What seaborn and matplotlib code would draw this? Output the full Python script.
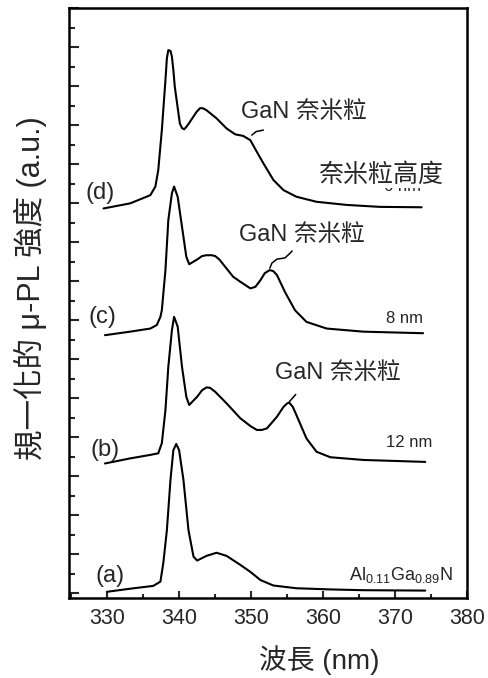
import numpy as np
import pandas as pd
import matplotlib
matplotlib.use("Agg")
import matplotlib.pyplot as plt
from matplotlib.ticker import MultipleLocator, NullFormatter
import seaborn as sns

# ── Data (wavelength nm, normalised intensity + offset) ──
wl_a = [330.0, 333.7, 336.4, 337.4, 337.8, 338.3, 338.8, 339.2, 339.6, 340.0,
        340.6, 341.3, 342.0, 342.5, 343.8, 345.2, 346.6, 348.5, 349.9, 351.3,
        353.1, 356.3, 361.0, 365.6, 374.2]
pl_a = [0.04, 0.13, 0.19, 0.30, 0.77, 1.62, 2.91, 3.67, 3.83, 3.67,
        2.91, 1.62, 0.94, 0.84, 0.96, 1.04, 0.96, 0.73, 0.55, 0.34,
        0.20, 0.13, 0.10, 0.08, 0.07]

wl_b = [329.7, 333.2, 336.0, 337.1, 337.6, 338.1, 338.5, 339.0, 339.3, 339.8,
        340.4, 341.0, 341.4, 342.5, 343.2, 343.8, 344.3, 345.0, 346.6, 348.5,
        349.9, 350.8, 351.5, 352.2, 353.6, 354.5, 355.0, 355.3, 355.8, 356.3,
        357.7, 359.1, 361.0, 365.6, 374.2]
pl_b = [3.33, 3.46, 3.55, 3.59, 3.85, 4.70, 5.81, 6.75, 7.09, 6.84,
        5.81, 5.04, 4.83, 5.04, 5.21, 5.28, 5.27, 5.17, 4.87, 4.49,
        4.29, 4.19, 4.19, 4.23, 4.53, 4.78, 4.87, 4.89, 4.78, 4.57,
        3.97, 3.63, 3.49, 3.42, 3.37]

wl_c = [329.7, 333.2, 336.0, 336.9, 337.4, 337.6, 338.1, 338.5, 339.0, 339.3,
        339.8, 340.4, 341.0, 341.4, 342.5, 343.2, 343.8, 344.5, 345.0, 345.6,
        346.2, 347.5, 348.5, 349.9, 350.6, 351.3, 351.9, 352.6, 353.1, 353.6,
        354.7, 356.1, 357.7, 360.5, 365.6, 373.9]
pl_c = [6.62, 6.71, 6.79, 6.88, 7.09, 7.26, 8.29, 9.57, 10.26, 10.43,
        10.17, 9.40, 8.63, 8.44, 8.56, 8.65, 8.67, 8.67, 8.65, 8.56,
        8.42, 8.12, 7.99, 7.82, 7.86, 8.03, 8.21, 8.29, 8.26, 8.16,
        7.73, 7.26, 6.96, 6.79, 6.71, 6.67]

wl_d = [329.5, 333.2, 336.0, 336.7, 337.1, 337.6, 338.1, 338.3, 338.5, 338.8,
        339.0, 339.2, 339.4, 340.1, 340.4, 340.7, 341.0, 341.5, 342.4, 342.9,
        343.3, 343.8, 345.2, 346.6, 347.8, 348.9, 349.9, 350.8, 351.7, 353.1,
        354.5, 356.3, 359.1, 363.3, 367.9, 373.7]
pl_d = [9.87, 10.00, 10.21, 10.43, 10.85, 11.88, 13.16, 13.72, 13.93, 13.91,
        13.76, 13.42, 12.99, 12.05, 11.93, 11.90, 11.96, 12.09, 12.34, 12.44,
        12.44, 12.39, 12.18, 11.92, 11.77, 11.73, 11.62, 11.32, 11.03, 10.60,
        10.34, 10.17, 10.04, 9.96, 9.91, 9.90]

curve_labels = ["(a)", "(b)", "(c)", "(d)"]
label_x = [330.4, 329.7, 329.4, 329.0]
label_y = [0.44, 3.67, 7.08, 10.26]

# small leader strokes from the "GaN 奈米粒" labels to the curves
lead_d_x = [350.1, 350.7, 351.7]
lead_d_y = [11.75, 11.84, 11.88]
lead_c_x = [352.6, 352.9, 353.6, 354.7, 355.4, 355.7]
lead_c_y = [8.34, 8.47, 8.57, 8.60, 8.72, 8.78]
lead_b_x = [355.3, 356.2]
lead_b_y = [4.91, 5.10]

sns.set_theme(style="ticks")
plt.rcParams["font.family"] = ["Liberation Sans", "Noto Sans CJK TC", "DejaVu Sans"]
plt.rcParams["mathtext.fontset"] = "custom"
plt.rcParams["mathtext.rm"] = "Liberation Sans"
plt.rcParams["mathtext.bf"] = "Liberation Sans:bold"

fig, ax = plt.subplots(figsize=(4.89, 6.78), dpi=100)
fig.subplots_adjust(left=69 / 489, right=467 / 489, bottom=1 - 598 / 678, top=1 - 8 / 678)

frames = []
for name, wl, pl in [("a", wl_a, pl_a), ("b", wl_b, pl_b), ("c", wl_c, pl_c), ("d", wl_d, pl_d)]:
    frames.append(pd.DataFrame({"wavelength": wl, "intensity": pl, "sample": name}))
df = pd.concat(frames, ignore_index=True)

for name, group in df.groupby("sample"):
    sns.lineplot(data=group, x="wavelength", y="intensity", estimator=None,
                 color="black", linewidth=1.5, ax=ax, legend=False,
                 solid_joinstyle="round", solid_capstyle="round")

for lx, ly in [(lead_d_x, lead_d_y), (lead_c_x, lead_c_y), (lead_b_x, lead_b_y)]:
    ax.plot(lx, ly, color="black", linewidth=1.1, solid_capstyle="round")

for lab, x, y in zip(curve_labels, label_x, label_y):
    ax.text(x, y, lab, fontsize=17, ha="center", va="center")

# annotations
ax.text(357.4, 12.34, "GaN 奈米粒", fontsize=17, ha="center", va="center")
ax.text(357.0, 9.19, "GaN 奈米粒", fontsize=17, ha="center", va="center")
ax.text(362.1, 5.64, "GaN 奈米粒", fontsize=17, ha="center", va="center")
# the "6 nm" tag is mostly covered by the height label in the original
ax.text(371.1, 10.44, "6 nm", fontsize=12, ha="center", va="center", zorder=3)
ax.text(368.0, 10.73, "奈米粒高度", fontsize=18, ha="center", va="center", zorder=4,
        bbox=dict(facecolor="white", edgecolor="none", pad=0.5))
ax.text(371.25, 7.06, "8 nm", fontsize=12, ha="center", va="center")
ax.text(371.9, 3.88, "12 nm", fontsize=12, ha="center", va="center")
ax.text(370.8, 0.34, r"$\mathrm{Al_{0.11}Ga_{0.89}N}$", fontsize=13,
        ha="center", va="baseline")

ax.set_xlim(324.7, 380)
ax.set_ylim(-0.12, 15.01)
ax.xaxis.set_major_locator(MultipleLocator(10))
ax.xaxis.set_minor_locator(MultipleLocator(5))
ax.yaxis.set_major_locator(MultipleLocator(1))
ax.yaxis.set_minor_locator(MultipleLocator(0.5))
ax.yaxis.set_major_formatter(NullFormatter())
ax.set_xlabel("")
ax.set_ylabel("")

ax.tick_params(axis="x", which="major", direction="in", length=5, width=1.5,
               labelsize=15.5, pad=7)
ax.tick_params(axis="x", which="minor", direction="in", length=3, width=1.5)
ax.tick_params(axis="y", which="major", direction="in", length=7, width=1.5)
ax.tick_params(axis="y", which="minor", direction="in", length=4.5, width=1.5)
for side in ["left", "bottom", "right", "top"]:
    ax.spines[side].set_visible(True)
    ax.spines[side].set_linewidth(1.8)
    ax.spines[side].set_color("black")

fig.text(30 / 489, 1 - 288 / 678, "規一化的 μ-PL 強度 (a.u.)", rotation=90,
         fontsize=22, ha="center", va="center")
fig.text(319 / 489, 1 - 660 / 678, "波長 (nm)", fontsize=20, ha="center", va="center")

fig.savefig("out.png", dpi=100)
